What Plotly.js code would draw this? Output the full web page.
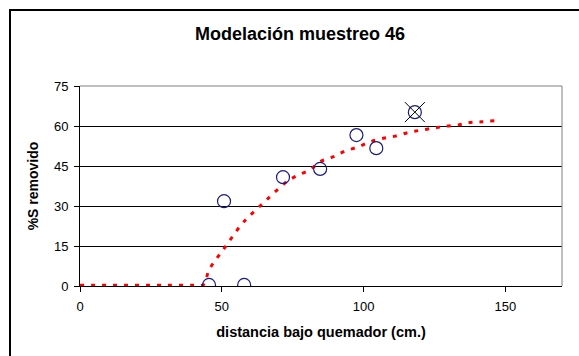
<!DOCTYPE html>
<html><head><meta charset="utf-8">
<script src="https://cdn.plot.ly/plotly-3.0.1.min.js"></script>
<style>
html,body{margin:0;padding:0;background:#fff;}
#wrap{position:relative;width:579px;height:356px;}
#chart{position:absolute;left:0;top:0;width:579px;height:356px;}
#frame{position:absolute;left:9px;top:9px;width:570px;height:347px;border-left:2px solid #000;border-top:2px solid #000;pointer-events:none;}
</style></head>
<body>
<div id="wrap"><div id="chart"></div><div id="frame"></div></div>
<script>
// Measured points
const obsX = [45.5, 50.8, 57.9, 71.6, 84.7, 97.5, 104.5, 118.1];
const obsY = [0.4, 31.8, 0.4, 40.8, 43.9, 56.6, 51.7, 65.2];
// Outlier (crossed out)
const outX = [118.1];
const outY = [65.2];
// Model curve
const fitX = [0, 10, 20, 30, 40, 43.5, 45.6, 50.9, 56.6, 59.5, 62.9, 65.9, 69.4, 72.9, 76.2, 81.2, 84.7, 89.4, 93.5, 98.2, 102.4, 107, 111.2, 115.9, 120, 124.7, 128.8, 133.5, 137.6, 141.8, 146.5];
const fitY = [0.3, 0.3, 0.3, 0.3, 0.3, 0.5, 6.2, 14.2, 22.6, 26, 29.4, 32.4, 35.9, 39.1, 41.2, 43.7, 46.6, 48.5, 50.6, 52.2, 54.1, 55.4, 56.2, 57.6, 58.4, 59.2, 59.9, 60.4, 61.3, 61.6, 62];
const xTicks = [0, 50, 100, 150];
const yTicks = [0, 15, 30, 45, 60, 75];

const traces = [
  {x: fitX, y: fitY, mode: 'lines', line: {color: '#ff0000', width: 3, dash: '4px,7px', shape: 'spline'}, hoverinfo: 'skip'},
  {x: obsX, y: obsY, mode: 'markers', marker: {symbol: 'circle-open', size: 13, color: '#1a1a80', line: {width: 1.2, color: '#1a1a80'}}},
  {x: outX, y: outY, mode: 'markers', marker: {symbol: 'x-thin-open', size: 20, color: '#000', line: {width: 1, color: '#000'}}}
];

const layout = {
  width: 579, height: 356,
  margin: {l: 80, r: 17, t: 86, b: 70},
  paper_bgcolor: 'rgba(0,0,0,0)', plot_bgcolor: '#fff',
  showlegend: false,
  font: {family: 'Liberation Sans, Arial, sans-serif', color: '#000', size: 12},
  title: {text: '<b>Modelación muestreo 46</b>', font: {size: 18, family: 'Liberation Sans, Arial, sans-serif'}, x: 0.518, xanchor: 'center', y: 0.905, yanchor: 'middle'},
  xaxis: {range: [0, 170], tickvals: xTicks, ticktext: xTicks.map(String), ticks: 'outside', ticklen: 5, tickcolor: '#000',
    showgrid: false, zeroline: false, showline: true, linecolor: '#000', linewidth: 1, mirror: false, ticklabelstandoff: 3,
    tickfont: {size: 13}, title: {text: '<b>distancia bajo quemador (cm.)</b>', font: {size: 14.5}, standoff: 14}},
  yaxis: {range: [0, 75], tickvals: yTicks, ticks: 'outside', ticklen: 5, tickcolor: '#000', ticklabelstandoff: 3,
    showgrid: true, gridcolor: '#000', gridwidth: 1, zeroline: false, showline: true, linecolor: '#000', linewidth: 1,
    tickfont: {size: 13}, title: {text: '<b>%S removido</b>', font: {size: 14}, standoff: 12}},
  shapes: [
    {type: 'line', xref: 'paper', yref: 'paper', x0: 0, x1: 1, y0: 1, y1: 1, line: {color: '#808080', width: 1}},
    {type: 'line', xref: 'paper', yref: 'paper', x0: 1, x1: 1, y0: 0, y1: 1, line: {color: '#808080', width: 1}}
  ]
};
Plotly.newPlot('chart', traces, layout, {staticPlot: true});
</script>
</body></html>
